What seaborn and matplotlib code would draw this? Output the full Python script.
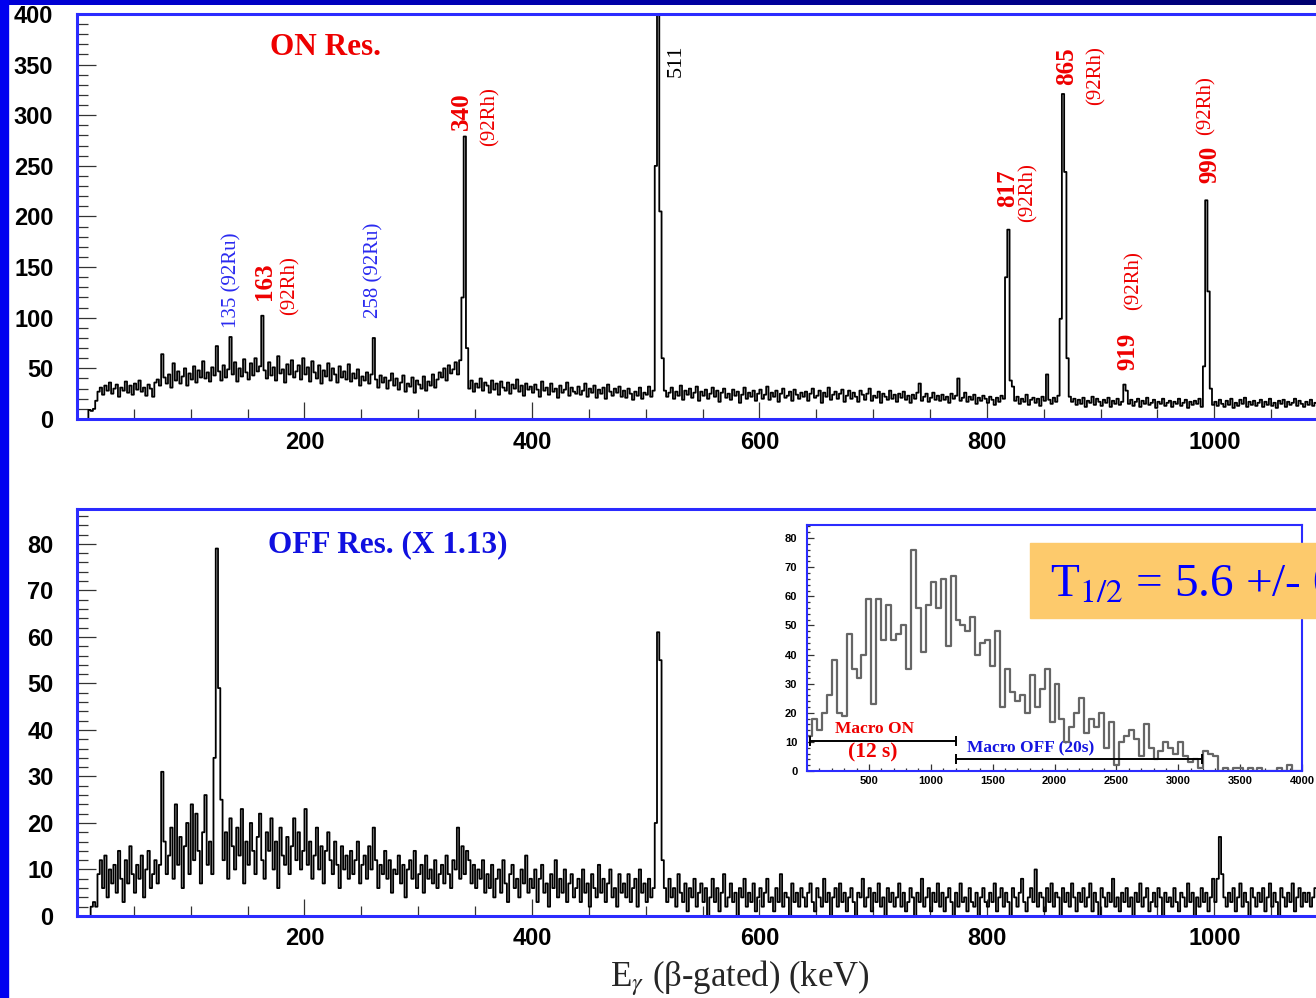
import numpy as np
import pandas as pd
import matplotlib
matplotlib.use("Agg")
import matplotlib.pyplot as plt
import seaborn as sns
from matplotlib.ticker import MultipleLocator, FixedLocator
from matplotlib.patches import Rectangle
from matplotlib.colors import LinearSegmentedColormap

# -----------------------------
# Data
# -----------------------------
BIN_KEV = 2        # keV per channel of the gamma spectra
DECAY_BIN = 40     # time bin of the decay-curve inset

# ON resonance, counts per 2 keV channel (0 - 1090 keV), 20 channels per row
on_counts = [
    0, 0, 0, 0, 0, 9, 8, 10, 18, 27, 31, 24, 33, 28, 36, 25, 30, 34, 22, 31,
    28, 37, 26, 33, 24, 35, 29, 38, 27, 31, 23, 34, 30, 22, 36, 39, 33, 64, 41, 35,
    44, 31, 55, 38, 47, 35, 42, 50, 33, 45, 39, 52, 36, 48, 41, 57, 40, 46, 37, 51,
    43, 72, 47, 38, 53, 41, 49, 81, 44, 56, 37, 50, 42, 59, 46, 39, 55, 43, 60, 47,
    52, 102, 48, 40, 56, 43, 51, 38, 62, 45, 49, 36, 54, 44, 58, 41, 47, 53, 39, 60,
    44, 51, 37, 57, 46, 40, 53, 35, 48, 42, 55, 38, 50, 44, 36, 52, 41, 47, 39, 54,
    37, 45, 40, 49, 33, 42, 38, 46, 35, 44, 80, 39, 31, 43, 36, 41, 30, 38, 45, 33,
    40, 29, 36, 43, 27, 35, 32, 41, 26, 38, 34, 30, 42, 28, 37, 33, 44, 31, 39, 46,
    41, 50, 38, 53, 45, 49, 56, 44, 58, 120, 279, 70, 30, 38, 27, 35, 31, 40, 28, 36,
    33, 26, 38, 29, 35, 24, 37, 31, 28, 36, 25, 34, 30, 39, 27, 33, 23, 35, 29, 32,
    26, 34, 29, 22, 37, 28, 31, 24, 35, 27, 30, 21, 33, 26, 29, 36, 23, 31, 27, 25,
    32, 24, 28, 35, 22, 30, 26, 33, 21, 29, 25, 31, 20, 34, 27, 23, 30, 26, 32, 22,
    28, 21, 30, 25, 19, 27, 23, 31, 20, 26, 24, 32, 22, 28, 250, 480, 205, 60, 28, 22,
    26, 31, 20, 27, 23, 33, 19, 28, 24, 30, 21, 26, 32, 18, 27, 23, 29, 20, 25, 31,
    22, 28, 17, 26, 30, 21, 25, 19, 29, 23, 27, 16, 24, 31, 20, 26, 22, 28, 18, 25,
    29, 20, 24, 32, 19, 26, 22, 28, 17, 25, 30, 21, 23, 27, 18, 29, 24, 20, 26, 22,
    27, 18, 25, 30, 21, 23, 28, 16, 26, 22, 31, 19, 24, 27, 20, 25, 29, 17, 23, 28,
    20, 26, 22, 17, 28, 24, 19, 25, 30, 18, 23, 21, 27, 16, 25, 22, 19, 28, 20, 24,
    17, 25, 21, 27, 19, 23, 16, 24, 20, 26, 35, 18, 22, 25, 17, 21, 26, 19, 23, 18,
    24, 19, 22, 16, 25, 20, 23, 40, 18, 21, 26, 17, 22, 19, 24, 15, 21, 18, 23, 20,
    16, 22, 19, 14, 21, 17, 23, 20, 140, 187, 38, 32, 18, 22, 15, 20, 17, 24, 14, 19,
    21, 16, 20, 13, 22, 18, 44, 19, 15, 21, 17, 23, 99, 321, 244, 60, 22, 17, 20, 14,
    19, 15, 21, 12, 18, 16, 22, 14, 20, 17, 13, 19, 16, 21, 12, 18, 15, 20, 14, 17,
    34, 28, 15, 19, 13, 17, 20, 12, 18, 15, 21, 14, 16, 19, 11, 17, 15, 20, 13, 16,
    18, 12, 17, 15, 20, 13, 16, 19, 11, 17, 14, 18, 15, 20, 12, 52, 216, 126, 30, 14,
    17, 13, 19, 15, 12, 18, 14, 20, 11, 16, 13, 19, 15, 21, 12, 17, 14, 18, 13, 16,
    19, 12, 17, 14, 20, 13, 16, 11, 18, 15, 19, 12, 17, 14, 16, 20, 13, 18, 15, 12,
    17, 14, 19, 13, 16,
]

# OFF resonance (scaled x 1.13), counts per 2 keV channel
off_counts = [
    0, 0, 0, 0, 0, 0, 2, 3, 2, 9, 12, 6, 13, 4, 10, 7, 11, 5, 14, 8,
    3, 12, 7, 15, 9, 5, 11, 8, 13, 4, 10, 14, 6, 9, 12, 7, 11, 31, 16, 9,
    13, 19, 8, 24, 11, 17, 6, 15, 20, 9, 24, 12, 22, 14, 7, 18, 26, 11, 16, 9,
    34, 79, 49, 25, 12, 18, 8, 21, 15, 10, 19, 13, 23, 7, 16, 11, 20, 14, 9, 17,
    22, 12, 8, 18, 14, 21, 10, 16, 6, 19, 13, 11, 17, 9, 15, 21, 12, 18, 10, 14,
    23, 11, 16, 8, 13, 19, 10, 15, 7, 14, 18, 12, 9, 16, 11, 6, 15, 10, 13, 8,
    14, 9, 12, 16, 7, 11, 13, 8, 15, 10, 19, 12, 6, 11, 9, 14, 8, 12, 5, 10,
    9, 13, 7, 11, 4, 10, 12, 8, 14, 6, 9, 11, 5, 13, 8, 10, 7, 12, 6, 9,
    11, 7, 13, 9, 6, 12, 10, 19, 8, 15, 9, 14, 12, 7, 11, 6, 10, 8, 12, 5,
    9, 6, 11, 4, 8, 10, 5, 12, 7, 3, 9, 11, 6, 8, 4, 10, 7, 13, 5, 8,
    6, 10, 3, 8, 11, 5, 7, 2, 9, 6, 12, 4, 8, 5, 10, 3, 7, 9, 4, 6,
    8, 3, 10, 5, 7, 2, 9, 6, 4, 11, 5, 8, 3, 7, 10, 4, 6, 2, 9, 5,
    7, 4, 9, 3, 6, 8, 2, 10, 5, 7, 3, 8, 4, 6, 20, 61, 55, 12, 6, 3,
    8, 4, 6, 2, 9, 5, 3, 7, 1, 6, 4, 8, 2, 5, 7, 3, 6, 0, 4, 8,
    3, 6, 1, 5, 9, 2, 4, 7, 3, 5, 0, 6, 4, 8, 2, 5, 3, 7, 1, 4,
    6, 2, 5, 8, 3, 4, 1, 6, 3, 9, 2, 5, 4, 0, 7, 3, 5, 2, 6, 4,
    2, 5, 7, 3, 1, 6, 4, 2, 8, 3, 5, 0, 4, 6, 2, 7, 3, 5, 1, 4,
    6, 3, 0, 5, 4, 8, 2, 4, 6, 1, 5, 3, 7, 2, 4, 0, 6, 3, 5, 2,
    4, 7, 2, 5, 1, 3, 6, 4, 0, 5, 3, 8, 2, 4, 6, 1, 5, 3, 7, 2,
    5, 1, 4, 6, 3, 0, 5, 2, 7, 3, 4, 1, 6, 3, 2, 5, 0, 4, 6, 3,
    2, 5, 3, 7, 1, 4, 6, 2, 5, 3, 0, 6, 4, 2, 5, 8, 3, 1, 4, 6,
    3, 10, 2, 5, 4, 1, 6, 3, 7, 2, 5, 4, 0, 6, 3, 5, 2, 7, 4, 1,
    5, 3, 6, 2, 4, 7, 1, 5, 3, 0, 6, 4, 2, 5, 3, 8, 2, 4, 1, 5,
    3, 6, 2, 4, 0, 5, 3, 7, 2, 4, 6, 1, 3, 5, 2, 6, 4, 0, 5, 3,
    4, 2, 6, 3, 1, 5, 4, 2, 7, 3, 5, 0, 4, 2, 6, 3, 5, 1, 4, 8,
    3, 8, 17, 9, 4, 2, 5, 3, 6, 1, 4, 7, 2, 5, 3, 0, 6, 4, 2, 5,
    3, 6, 1, 4, 7, 2, 5, 3, 0, 6, 4, 2, 5, 3, 7, 1, 4, 6, 2, 5,
    3, 5, 2, 4, 6,
]

# decay curve of the inset, counts per 40 time units (0 - 4000)
decay_counts = [
    12, 18, 14, 20, 26, 38, 20, 19, 47, 35,
    32, 40, 59, 23, 59, 45, 57, 45, 47, 50,
    35, 76, 56, 41, 57, 65, 56, 66, 43, 67,
    52, 50, 48, 53, 40, 44, 45, 36, 48, 22,
    35, 27, 24, 26, 20, 33, 22, 28, 35, 17,
    30, 18, 10, 15, 20, 25, 13, 18, 15, 20,
    8, 17, 2, 10, 12, 14, 11, 5, 16, 8,
    4, 7, 10, 8, 6, 10, 5, 3, 4, 1,
    7, 6, 5, 0, 1, 0, 1, 1, 0, 1,
    0, 1, 0, 0, 0, 1, 0, 2, 0, 0,
]

on_tick_labels = [200, 400, 600, 800, 1000]
inset_tick_labels = [500, 1000, 1500, 2000, 2500, 3000, 3500, 4000]

energy = np.arange(len(on_counts)) * BIN_KEV + BIN_KEV / 2
decay = pd.DataFrame({
    "t": np.arange(len(decay_counts)) * DECAY_BIN + DECAY_BIN / 2,
    "n": decay_counts,
})

# -----------------------------
# Style
# -----------------------------
sns.set_style("white")
plt.rcParams["font.family"] = ["Liberation Sans", "DejaVu Sans"]
plt.rcParams["mathtext.fontset"] = "stix"

BLUE = "#2b2bff"
RED = "#ee0000"
SERIF = ["Liberation Serif", "DejaVu Serif"]

W, H = 1316, 998
fig = plt.figure(figsize=(W / 100, H / 100), dpi=100)


def style_axes(ax, lab_size, pad_x, pad_y, maj_len, min_len, lw):
    for s in ax.spines.values():
        s.set_color(BLUE)
        s.set_linewidth(lw)
    ax.tick_params(which="both", direction="in", top=False, right=False,
                   bottom=True, left=True, color="#333333", width=0.9,
                   labelsize=lab_size, labelcolor="black")
    ax.tick_params(axis="x", which="both", pad=pad_x)
    ax.tick_params(axis="y", which="both", pad=pad_y)
    ax.tick_params(which="major", length=maj_len[0])
    ax.tick_params(which="minor", length=min_len[0])
    ax.tick_params(axis="x", which="major", length=maj_len[1])
    ax.tick_params(axis="x", which="minor", length=min_len[1])
    for lab in ax.get_xticklabels() + ax.get_yticklabels():
        lab.set_fontweight("bold")
    ax.set_xlabel("")
    ax.set_ylabel("")
    ax.grid(False)


# -----------------------------
# ON resonance spectrum
# -----------------------------
ax_on = fig.add_axes([77 / W, 1 - 419 / H, 1251 / W, 405 / H])
sns.lineplot(x=energy, y=on_counts, drawstyle="steps-mid", color="black",
             linewidth=1.3, estimator=None, ax=ax_on)
ax_on.set_xlim(0, 1100)
ax_on.set_ylim(0, 400)
ax_on.xaxis.set_major_locator(FixedLocator(on_tick_labels))
ax_on.xaxis.set_minor_locator(MultipleLocator(50))
ax_on.yaxis.set_major_locator(MultipleLocator(50))
ax_on.yaxis.set_minor_locator(MultipleLocator(10))
style_axes(ax_on, 17, 9, 17, (14, 12), (8, 7), 2.2)

ax_on.text(170, 367, "ON Res.", color=RED, fontsize=22.5, fontweight="bold",
           family=SERIF, ha="left", va="center")

peak_labels = [
    ("135 (92Ru)", 136, 90, "#2a2af0", "normal", 15),
    ("163", 165, 118, RED, "bold", 18),
    ("(92Rh)", 187, 103, RED, "normal", 15),
    ("258 (92Ru)", 261, 100, "#2a2af0", "normal", 15),
    ("340", 338, 285, RED, "bold", 18),
    ("(92Rh)", 363, 270, RED, "normal", 15),
    ("511", 527, 338, "black", "normal", 16),
    ("817", 818, 209, RED, "bold", 18),
    ("(92Rh)", 836, 195, RED, "normal", 15),
    ("865", 870, 330, RED, "bold", 18),
    ("(92Rh)", 896, 310, RED, "normal", 15),
    ("919", 924, 48, RED, "bold", 18),
    ("(92Rh)", 929, 108, RED, "normal", 15),
    ("990", 996, 233, RED, "bold", 18),
    ("(92Rh)", 993, 280, RED, "normal", 15),
]
for txt, x, y, col, wt, size in peak_labels:
    ax_on.text(x, y, txt, rotation=90, color=col, fontweight=wt,
               fontsize=size, family=SERIF, ha="center", va="bottom")

# -----------------------------
# OFF resonance spectrum
# -----------------------------
ax_off = fig.add_axes([77 / W, 1 - 916 / H, 1251 / W, 407 / H])
sns.lineplot(x=energy, y=off_counts, drawstyle="steps-mid", color="black",
             linewidth=1.3, estimator=None, ax=ax_off)
ax_off.set_xlim(0, 1100)
ax_off.set_ylim(0, 87.5)
ax_off.xaxis.set_major_locator(FixedLocator(on_tick_labels))
ax_off.xaxis.set_minor_locator(MultipleLocator(50))
ax_off.yaxis.set_major_locator(MultipleLocator(10))
ax_off.yaxis.set_minor_locator(MultipleLocator(2))
style_axes(ax_off, 17, 8, 17, (14, 12), (8, 7), 2.2)

ax_off.text(168, 79.8, "OFF Res. (X 1.13)", color="#1010e0", fontsize=22.5,
            fontweight="bold", family=SERIF, ha="left", va="center")

# -----------------------------
# Decay-curve inset
# -----------------------------
ax_in = fig.add_axes([807 / W, 1 - 771 / H, 495 / W, 246 / H])
ax_in.set_facecolor("white")
sns.histplot(data=decay, x="t", weights="n", binwidth=DECAY_BIN,
             binrange=(0, len(decay_counts) * DECAY_BIN),
             element="step", fill=False, color="#666666", linewidth=1.6,
             ax=ax_in)
ax_in.set_xlim(0, 4000)
ax_in.set_ylim(0, 84.5)
ax_in.xaxis.set_major_locator(FixedLocator(inset_tick_labels))
ax_in.xaxis.set_minor_locator(MultipleLocator(100))
ax_in.yaxis.set_major_locator(MultipleLocator(10))
ax_in.yaxis.set_minor_locator(MultipleLocator(2))
style_axes(ax_in, 8, 3.5, 7, (5, 5), (2.5, 2.5), 1.5)

ax_in.plot([25, 1200], [10.2, 10.2], color="black", lw=1.4,
           marker="|", markersize=7, mew=1.4)
ax_in.plot([1200, 3190], [4, 4], color="black", lw=1.4,
           marker="|", markersize=7, mew=1.4)
ax_in.text(548, 14.4, "Macro ON", color=RED, fontsize=12.5,
           fontweight="bold", family=SERIF, ha="center", va="center")
ax_in.text(532, 6.5, "(12 s)", color=RED, fontsize=15.5,
           fontweight="bold", family=SERIF, ha="center", va="center")
ax_in.text(1290, 7.9, "Macro OFF (20s)", color="#1515e0", fontsize=12.5,
           fontweight="bold", family=SERIF, ha="left", va="center",
           zorder=1.5)

# -----------------------------
# Half-life box, axis title, slide frame
# -----------------------------
fig.patches.append(Rectangle((1030 / W, 1 - 618 / H), 0.3, 75 / H,
                             transform=fig.transFigure, color="#fdca6c",
                             zorder=5))
fig.text(1050 / W, 1 - 597 / H, r"T$_{1/2}$ = 5.6 +/- 0.5 s",
         color="#0000ff", fontsize=34, family=SERIF,
         ha="left", va="baseline", zorder=6)

fig.text(740 / W, 1 - 978 / H, r"E$_{\gamma}$ (β-gated) (keV)",
         fontsize=25, family=SERIF, ha="center", va="center")

fig.patches.append(Rectangle((0, 0), 8 / W, 1, transform=fig.transFigure,
                             color="#0000f0", zorder=10))
gax = fig.add_axes([0, 1 - 5 / H, 1, 5 / H], zorder=10)
gax.imshow(np.linspace(0, 1, 256)[None, :], aspect="auto",
           cmap=LinearSegmentedColormap.from_list("frame", ["#0000d8", "#000070"]))
gax.axis("off")

plt.savefig("out.png", dpi=100)
plt.close()
